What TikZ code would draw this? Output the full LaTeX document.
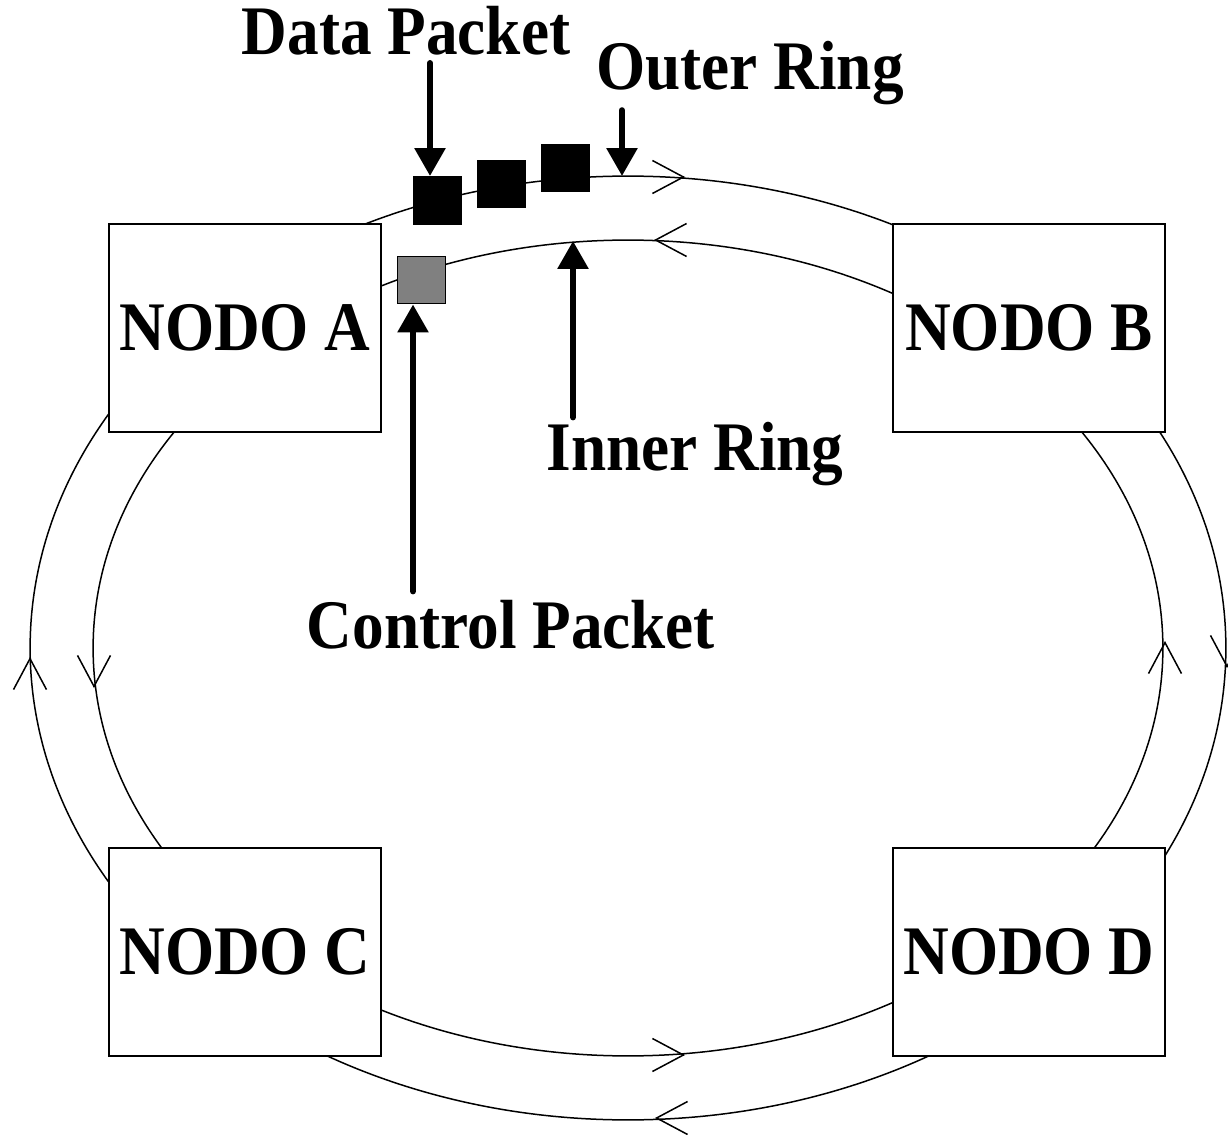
\documentclass[tikz,border=0pt]{standalone}
\usepackage{fontspec}
\setmainfont{Liberation Serif}
\usetikzlibrary{arrows.meta}
\newcommand{\tall}[1]{\scalebox{1}[1.1]{#1}}
\tikzstyle{nodo} = [rectangle, draw=black, fill=white, line width=0.03cm, minimum width=5.44cm, minimum height=4.16cm, inner sep=0pt, font=\fontsize{36}{40}\selectfont\bfseries]
\tikzstyle{packet} = [rectangle, draw=black, line width=0.02cm, minimum size=0.96cm, inner sep=0pt]
\tikzstyle{tag} = [anchor=base, inner sep=0pt, font=\fontsize{36}{40}\selectfont\bfseries]
\tikzstyle{ring} = [line width=0.03cm]
\tikzstyle{flow} = [ring, -{Straight Barb[length=0.62cm, width=0.66cm]}]
\tikzstyle{pointer} = [line width=0.12cm, line cap=round, -{Triangle[length=0.56cm, width=0.6cm]}]

\begin{document}
\begin{tikzpicture}[x=0.02cm, y=-0.02cm]
	\useasboundingbox (0,0) rectangle (1228,1135);
	
	% Rings
	\draw [ring] (628,648) ellipse [x radius=11.96cm, y radius=9.44cm];
	\draw [ring] (628,648) ellipse [x radius=10.7cm, y radius=8.16cm];
	\foreach \x/\y/\a in {685/177/0, 1227/668/90, 655/1118/180, 30/657/270,
		654/240/180, 94/688/90, 685/1055/0, 1165/641/270}
		\draw [flow] (\x,\y) ++(\a+180:2) -- (\x,\y);
	
	% Nodes
	\node (nodoA) [nodo] at (245,328) {\tall{NODO A}};
	\node (nodoB) [nodo] at (1029,328) {\tall{NODO B}};
	\node (nodoC) [nodo] at (245,952) {\tall{NODO C}};
	\node (nodoD) [nodo] at (1029,952) {\tall{NODO D}};
	
	% Packets
	\node (data1) [packet, fill=black] at (437.5,200.5) {};
	\node (data2) [packet, fill=black] at (501.5,184) {};
	\node (data3) [packet, fill=black] at (565.5,168) {};
	\node (ctrl) [packet, fill=gray] at (421.5,280) {};
	\coordinate (outerpt) at (622,176);
	\coordinate (innerpt) at (573,241);
	
	% Labels
	\node (datalbl) [tag] at (406,55) {\tall{Data Packet}};
	\node (outerlbl) [tag] at (750,90) {\tall{Outer Ring}};
	\node (innerlbl) [tag] at (695,470) {\tall{Inner Ring}};
	\node (ctrllbl) [tag] at (511,648) {\tall{Control Packet}};
	
	% Arrows
	\draw [pointer, shorten <=0.14cm] (datalbl.south -| 430,0) -- (data1.north -| 430,0);
	\draw [pointer, shorten <=0.09cm] (outerlbl.south -| outerpt) -- (outerpt);
	\draw [pointer, shorten <=0.08cm] (innerlbl.north -| innerpt) -- (innerpt);
	\draw [pointer, shorten <=0.16cm] (ctrllbl.north -| 413,0) -- (ctrl.south -| 413,0);
	
\end{tikzpicture}
\end{document}
